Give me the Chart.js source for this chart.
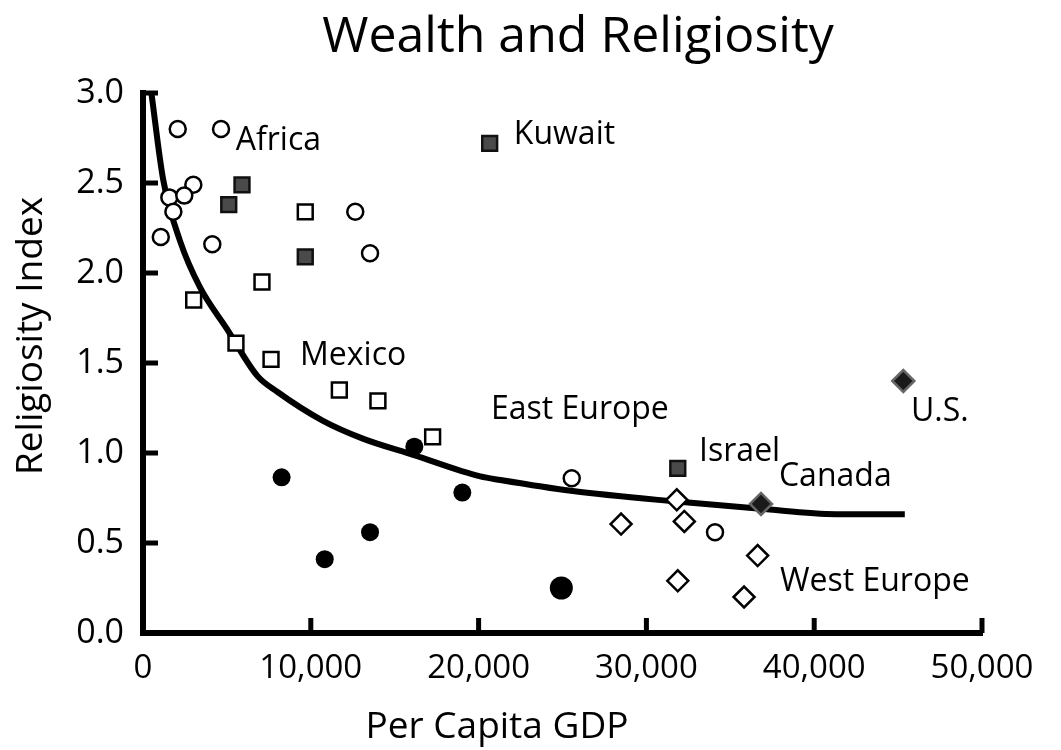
<!DOCTYPE html>
<html>
<head>
<meta charset="utf-8">
<script src="https://cdn.jsdelivr.net/npm/chart.js@4.4.1/dist/chart.umd.min.js"></script>
<style>
  html, body { margin: 0; padding: 0; background: #ffffff; }
  #wrap { width: 1061px; height: 750px; position: relative; }
</style>
</head>
<body>
<div id="wrap"><canvas id="chart" width="1061" height="750"></canvas></div>
<script>
// ---------- data ----------
const chartTitle = "Wealth and Religiosity";
const xAxisTitle = "Per Capita GDP";
const yAxisTitle = "Religiosity Index";

const xTickValues = [0, 10000, 20000, 30000, 40000, 50000];
const yTickValues = [0, 0.5, 1.0, 1.5, 2.0, 2.5, 3.0];

// open circles
const openCircleX = [2070, 4650, 3000, 1570, 2460, 1810, 1060, 4130, 12650, 13530, 25550, 34090];
const openCircleY = [2.80, 2.80, 2.49, 2.42, 2.43, 2.34, 2.20, 2.16, 2.34, 2.11, 0.86, 0.56];

// dark filled squares (incl. Kuwait, Israel)
const darkSquareX = [5900, 5110, 9670, 20660, 31870];
const darkSquareY = [2.49, 2.38, 2.09, 2.72, 0.915];

// open squares (Latin America)
const openSquareX = [9670, 7090, 3020, 5540, 7630, 11700, 14000, 17260];
const openSquareY = [2.34, 1.95, 1.85, 1.61, 1.52, 1.35, 1.29, 1.09];

// filled black circles (East Europe)
const filledCircleX = [16170, 8260, 19030, 13530, 10830, 24930];
const filledCircleY = [1.035, 0.865, 0.78, 0.56, 0.41, 0.25];

// open diamonds (West Europe)
const openDiamondX = [28490, 31810, 32260, 36630, 31870, 35820];
const openDiamondY = [0.605, 0.74, 0.62, 0.43, 0.29, 0.20];

// dark diamonds (Canada, U.S.)
const darkDiamondX = [36830, 45310];
const darkDiamondY = [0.717, 1.40];

// fitted curve
const curveX = [500, 1200, 2200, 3400, 5000, 6800, 8000, 10700, 13100, 16100, 20100, 21300, 25500, 31800, 36800, 41300, 45400];
const curveY = [3.00, 2.52, 2.18, 1.92, 1.69, 1.43, 1.34, 1.18, 1.08, 0.99, 0.87, 0.85, 0.79, 0.73, 0.69, 0.66, 0.66];

// annotation labels: text, x (left edge), y (vertical centre) in data units
const labelTexts = ["Africa", "Kuwait", "Mexico", "East Europe", "Israel", "Canada", "U.S.", "West Europe"];
const labelX = [5530, 22100, 9360, 20740, 33140, 37900, 45770, 37960];
const labelY = [2.745, 2.78, 1.55, 1.25, 1.02, 0.878, 1.239, 0.295];

// ---------- helpers ----------
const pts = (xs, ys) => xs.map((x, i) => ({ x: x, y: ys[i] }));
const FONT = "'Open Sans', 'DejaVu Sans', sans-serif";

const textPlugin = {
  id: 'textPlugin',
  afterDraw(chart) {
    const ctx = chart.ctx;
    const xs = chart.scales.x, ys = chart.scales.y;
    const area = chart.chartArea;
    ctx.save();
    ctx.fillStyle = '#000';

    // inward tick marks
    ctx.strokeStyle = '#000';
    ctx.lineWidth = 5;
    ctx.lineCap = 'butt';
    yTickValues.forEach(v => {
      if (v === 0) return;
      const py = ys.getPixelForValue(v);
      ctx.beginPath();
      ctx.moveTo(area.left, py);
      ctx.lineTo(area.left + 15, py);
      ctx.stroke();
    });
    xTickValues.forEach(v => {
      if (v === 0) return;
      const px = xs.getPixelForValue(v);
      ctx.beginPath();
      ctx.moveTo(px, area.bottom);
      ctx.lineTo(px, area.bottom - 15);
      ctx.stroke();
    });

    // title
    ctx.font = "50px " + FONT;
    ctx.textAlign = 'center';
    ctx.textBaseline = 'alphabetic';
    ctx.fillText(chartTitle, 578, 52);

    // x axis title
    ctx.font = "37px " + FONT;
    ctx.fillText(xAxisTitle, 497, 738);

    // y axis title
    ctx.save();
    ctx.translate(42, 336);
    ctx.rotate(-Math.PI / 2);
    ctx.fillText(yAxisTitle, 0, 0);
    ctx.restore();

    // annotation labels
    const fs = 32;
    ctx.font = fs + "px " + FONT;
    ctx.textAlign = 'left';
    labelTexts.forEach((t, i) => {
      const px = xs.getPixelForValue(labelX[i]);
      const py = ys.getPixelForValue(labelY[i]) + 0.357 * fs;
      ctx.fillText(t, px, py);
    });
    ctx.restore();
  }
};

const common = { showLine: false, clip: false };

new Chart(document.getElementById('chart'), {
  type: 'scatter',
  data: {
    datasets: [
      Object.assign({}, common, {
        label: 'curve', data: pts(curveX, curveY), showLine: true,
        borderColor: '#000', borderWidth: 6, pointRadius: 0,
        cubicInterpolationMode: 'monotone', order: 10
      }),
      Object.assign({}, common, {
        label: 'open circles', data: pts(openCircleX, openCircleY),
        pointStyle: 'circle', pointRadius: 8, borderWidth: 2.5,
        borderColor: '#000', backgroundColor: '#fff'
      }),
      Object.assign({}, common, {
        label: 'dark squares', data: pts(darkSquareX, darkSquareY),
        pointStyle: 'rect', pointRadius: 10.5, borderWidth: 2.5,
        borderColor: '#111', backgroundColor: '#4a4a4a'
      }),
      Object.assign({}, common, {
        label: 'open squares', data: pts(openSquareX, openSquareY),
        pointStyle: 'rect', pointRadius: 10.5, borderWidth: 2.5,
        borderColor: '#000', backgroundColor: '#fff'
      }),
      Object.assign({}, common, {
        label: 'filled circles', data: pts(filledCircleX, filledCircleY),
        pointStyle: 'circle',
        pointRadius: c => (c.dataIndex === 5 ? 11.5 : 9),
        borderWidth: 0, borderColor: '#000', backgroundColor: '#000'
      }),
      Object.assign({}, common, {
        label: 'open diamonds', data: pts(openDiamondX, openDiamondY),
        pointStyle: 'rectRot', pointRadius: 10.5, borderWidth: 2.5,
        borderColor: '#000', backgroundColor: '#fff'
      }),
      Object.assign({}, common, {
        label: 'dark diamonds', data: pts(darkDiamondX, darkDiamondY),
        pointStyle: 'rectRot', pointRadius: 11, borderWidth: 2.5,
        borderColor: '#666', backgroundColor: '#1a1a1a'
      })
    ]
  },
  options: {
    responsive: false,
    animation: false,
    devicePixelRatio: 1,
    layout: { padding: { left: 0, right: 79, top: 93, bottom: 0 } },
    plugins: { legend: { display: false }, tooltip: { enabled: false }, title: { display: false } },
    elements: { point: { hoverRadius: 0 } },
    scales: {
      x: {
        type: 'linear', min: 0, max: 50000,
        afterFit: s => { s.height = 117; },
        afterBuildTicks: s => { s.ticks = xTickValues.map(v => ({ value: v })); },
        ticks: {
          font: { family: FONT, size: 33 }, color: '#000', padding: 8,
          maxRotation: 0, autoSkip: false,
          callback: v => v.toLocaleString('en-US')
        },
        grid: { display: false },
        border: { display: true, color: '#000', width: 6 }
      },
      y: {
        type: 'linear', min: 0, max: 3,
        afterFit: s => { s.width = 143; },
        afterBuildTicks: s => { s.ticks = yTickValues.map(v => ({ value: v })); },
        ticks: {
          font: { family: FONT, size: 34 }, color: '#000', padding: 11,
          autoSkip: false,
          callback: v => Number(v).toFixed(1)
        },
        grid: { display: false },
        border: { display: true, color: '#000', width: 6 }
      }
    }
  },
  plugins: [textPlugin]
});
</script>
</body>
</html>
